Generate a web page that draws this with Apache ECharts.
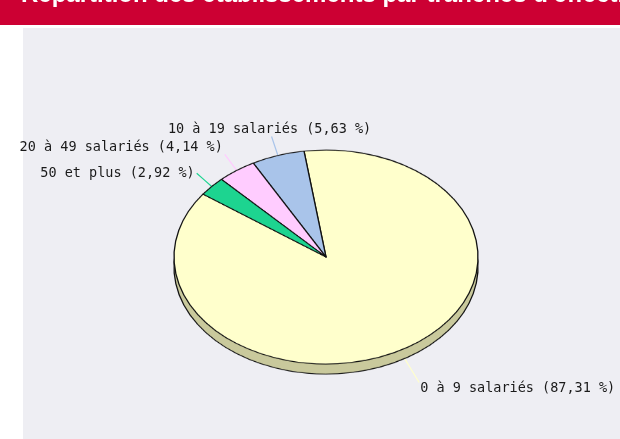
<!DOCTYPE html>
<html lang="fr">
<head>
<meta charset="UTF-8">
<title>Répartition des établissements par tranches d'effectif</title>
<script src="https://cdn.jsdelivr.net/npm/echarts@6.0.0/dist/echarts.min.js"></script>
<style>
    body { margin: 0; background: #fff; }
    #wrap { position: relative; width: 620px; height: 439px; overflow: hidden; }
    #labels { position: absolute; left: 0; top: 0; width: 620px; height: 439px; }
    #pie { position: absolute; left: 0; top: 0; width: 620px; transform-origin: 0 0; }
</style>
</head>
<body>
<div id="wrap">
    <div id="labels"></div>
    <div id="pie"></div>
</div>
<script>
    const chartTitle = "Répartition des établissements par tranches d'effectif";
    const categories = ['0 à 9 salariés', '10 à 19 salariés', '20 à 49 salariés', '50 et plus'];
    const shares = [87.31, 5.63, 4.14, 2.92];
    const sliceColors = ['#ffffcc', '#a9c4ea', '#ffccff', '#1dd490'];
    const sideColor = '#c9c99c';

    // tilted pie geometry (screen px)
    const cx = 326, cy = 257, rx = 152, ry = 107, depth = 10;
    const tilt = ry / rx;
    const startAngle = 144;

    const total = shares.reduce((a, b) => a + b, 0);
    function midAngle(i) {
        let before = 0;
        for (let k = 0; k < i; k++) before += shares[k];
        return (startAngle + (before + shares[i] / 2) / total * 360) * Math.PI / 180;
    }
    const fmt = p => `${p.name} (${p.value.toFixed(2).replace('.', ',')} %)`;

    // pie drawn round, then squashed vertically into an ellipse
    const pieDom = document.getElementById('pie');
    pieDom.style.height = (439 / tilt) + 'px';
    pieDom.style.transform = `scaleY(${tilt})`;
    const pieChart = echarts.init(pieDom);
    pieChart.setOption({
        backgroundColor: 'transparent',
        animation: false,
        series: [
            {
                // side of the disc
                type: 'pie',
                silent: true,
                center: [cx, (cy + depth) / tilt],
                radius: rx,
                startAngle: startAngle,
                clockwise: false,
                label: { show: false },
                labelLine: { show: false },
                itemStyle: { color: sideColor, borderColor: '#111', borderWidth: 1.3 },
                data: categories.map((c, i) => ({ name: c, value: shares[i] }))
            },
            {
                type: 'pie',
                silent: true,
                center: [cx, cy / tilt],
                radius: rx,
                startAngle: startAngle,
                clockwise: false,
                label: { show: false },
                labelLine: { show: false },
                itemStyle: { borderColor: '#111', borderWidth: 1.3 },
                data: categories.map((c, i) => ({
                    name: c, value: shares[i], itemStyle: { color: sliceColors[i] }
                }))
            }
        ]
    });

    // background, title and labels (not squashed)
    const labelChart = echarts.init(document.getElementById('labels'));
    labelChart.setOption({
        backgroundColor: '#fff',
        animation: false,
        graphic: [
            { type: 'rect', shape: { x: 0, y: 0, width: 620, height: 25 }, style: { fill: '#cc0033' } },
            { type: 'rect', shape: { x: 23, y: 28, width: 597, height: 411 }, style: { fill: '#eeeef3' } },
            {
                type: 'text', x: 21, y: 7,
                style: {
                    text: chartTitle, fill: '#fff', font: 'bold 24px "Liberation Sans", Arial',
                    verticalAlign: 'bottom'
                }
            }
        ],
        series: [
            {
                type: 'pie',
                silent: true,
                center: [cx, cy],
                radius: rx,
                startAngle: startAngle,
                clockwise: false,
                avoidLabelOverlap: false,
                itemStyle: { color: 'rgba(0,0,0,0)', borderWidth: 0 },
                label: {
                    show: true,
                    position: 'outside',
                    formatter: fmt,
                    fontFamily: '"DejaVu Sans Mono", monospace',
                    fontSize: 13.5,
                    color: '#1a1a1a'
                },
                labelLine: { show: true, lineStyle: { width: 1.2 } },
                labelLayout: function (params) {
                    const a = midAngle(params.dataIndex);
                    const ux = Math.cos(a), uy = -Math.sin(a);
                    const sx = cx + rx * ux, sy = cy + ry * uy + (uy > 0 ? depth : 0);
                    const len = uy > 0 ? 28 : 20;
                    const ex = sx + len * ux, ey = sy + len * uy;
                    const align = ux < -0.4 ? 'right' : (ux > 0.4 ? 'left' : 'center');
                    const vAlign = uy < -0.75 ? 'bottom' : (uy > 0.75 ? 'top' : 'middle');
                    const gx = align === 'right' ? -2 : (align === 'left' ? 1 : -2);
                    const gy = vAlign === 'bottom' ? 0 : (vAlign === 'top' ? -1 : 0);
                    return {
                        x: ex + gx, y: ey + gy,
                        align: align, verticalAlign: vAlign,
                        labelLinePoints: [[sx, sy], [(sx + ex) / 2, (sy + ey) / 2], [ex, ey]]
                    };
                },
                data: categories.map((c, i) => ({
                    name: c, value: shares[i],
                    labelLine: { lineStyle: { color: sliceColors[i] } }
                }))
            }
        ]
    });
</script>
</body>
</html>
